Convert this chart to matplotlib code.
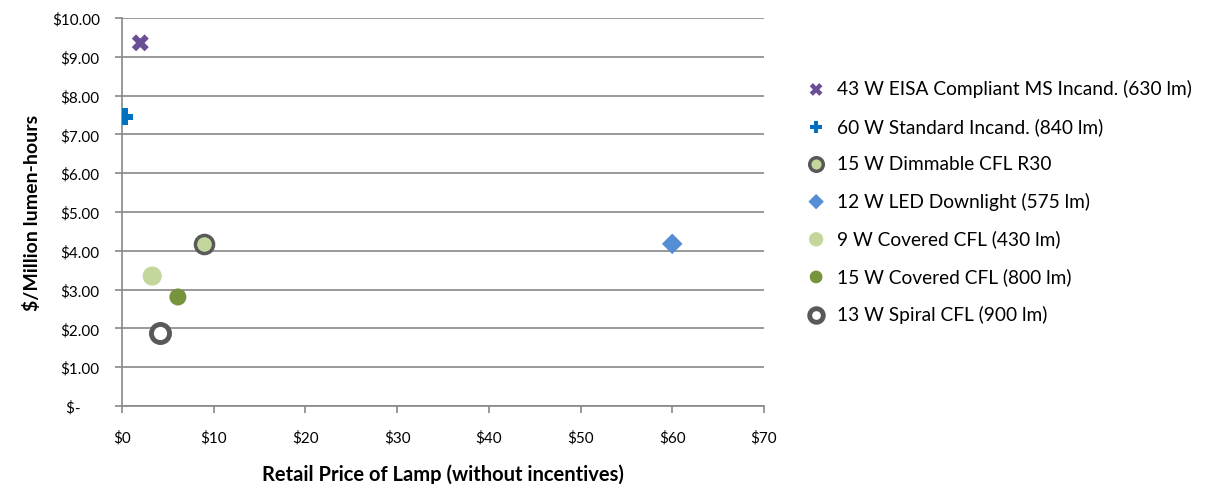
import matplotlib.pyplot as plt
from matplotlib.ticker import FuncFormatter

plt.rcParams['font.family'] = ['Lato', 'DejaVu Sans']

# lamp types: retail price ($) vs cost per million lumen-hours ($)
labels = [
    "43 W EISA Compliant MS Incand. (630 lm)",
    "60 W Standard Incand. (840 lm)",
    "15 W Dimmable CFL R30",
    "12 W LED Downlight (575 lm)",
    "9 W Covered CFL (430 lm)",
    "15 W Covered CFL (800 lm)",
    "13 W Spiral CFL (900 lm)",
]
price = [2.0, 0.3, 9.0, 60.0, 3.3, 6.1, 4.1]
cost_per_mlh = [9.36, 7.45, 4.18, 4.18, 3.35, 2.81, 1.88]

styles = [
    dict(marker="X", s=150, color="#6B4F96", edgecolors="none"),
    dict(marker="P", s=150, color="#0070C0", edgecolors="none"),
    dict(marker="o", s=170, color="#C3D69B", edgecolors="#595959", linewidths=2.5),
    dict(marker="D", s=110, color="#558ED5", edgecolors="none"),
    dict(marker="o", s=190, color="#C3D69B", edgecolors="none"),
    dict(marker="o", s=150, color="#77933C", edgecolors="none"),
    dict(marker="o", s=170, color="white", edgecolors="#595959", linewidths=3.5),
]

fig = plt.figure(figsize=(12.05, 4.85), dpi=100)
ax = fig.add_axes([0.1012, 0.1608, 0.5328, 0.8])

for x, y, lab, st in zip(price, cost_per_mlh, labels, styles):
    ax.scatter([x], [y], label=lab, zorder=3, **st)

ax.set_xlim(0, 70)
ax.set_ylim(0, 10)
ax.set_xticks(range(0, 71, 10))
ax.set_yticks(range(0, 11))
ax.xaxis.set_major_formatter(FuncFormatter(lambda v, p: f"${v:.0f}"))
ax.yaxis.set_major_formatter(FuncFormatter(lambda v, p: "$-     " if v == 0 else f"${v:.2f}"))

ax.grid(axis="y", color="#878787", linewidth=1.2)
ax.set_axisbelow(True)
for side in ["top", "right"]:
    ax.spines[side].set_visible(False)
for side in ["left", "bottom"]:
    ax.spines[side].set_color("#878787")
    ax.spines[side].set_linewidth(1.2)
ax.tick_params(axis="both", colors="#878787", length=5, width=1.2, labelsize=11,
               labelcolor="black")
ax.tick_params(axis="x", pad=12)
ax.tick_params(axis="y", pad=11)

ax.set_xlabel("Retail Price of Lamp (without incentives)", fontsize=14.5,
              fontweight="bold", labelpad=14)
ax.set_ylabel("$/Million lumen-hours", fontsize=14, fontweight="bold", labelpad=8)

ax.legend(loc="upper left", bbox_to_anchor=(0.655, 0.85), bbox_transform=fig.transFigure,
          frameon=False, fontsize=13.8, handletextpad=0.1, labelspacing=1.03,
          markerscale=0.75, borderaxespad=0)

fig.savefig("out.png", dpi=100)
